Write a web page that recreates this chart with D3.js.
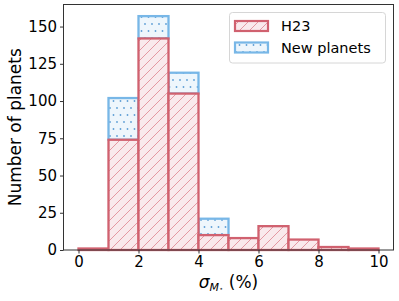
<!DOCTYPE html>
<html>
<head>
<meta charset="utf-8">
<script src="https://cdn.jsdelivr.net/npm/d3@7"></script>
<style>
  body { margin: 0; background: #fff; }
  svg { display: block; font-family: "DejaVu Sans", sans-serif; }
</style>
</head>
<body>
<div id="chart"></div>
<script>
// bin edges (sigma_M*, %)
const binStarts = [0, 1, 2, 3, 4, 5, 6, 7, 8, 9];
const binWidth = 1;
// H23 counts per bin
const h23 = [1, 74, 142, 105, 10, 8, 16, 7, 2, 1];
// new planets, stacked on top of H23
const newPlanets = [0, 28, 15, 14, 11, 0, 0, 0, 0, 0];
const xTicks = [0, 2, 4, 6, 8, 10];
const yTicks = [0, 25, 50, 75, 100, 125, 150];

const W = 399, H = 301;
const m = { left: 63.5, right: 5.5, top: 4.5, bottom: 51 };

const red = '#d0616f', redFill = '#f9e9ec', redHatch = '#e28e9a';
const blue = '#78b7e7', blueFill = '#eef6fc', blueDot = '#5e9fd6';

const svg = d3.select('#chart').append('svg')
  .attr('width', W).attr('height', H);

const defs = svg.append('defs');

const hatch = defs.append('pattern')
  .attr('id', 'hatchRed')
  .attr('patternUnits', 'userSpaceOnUse')
  .attr('width', 10).attr('height', 10);
hatch.append('rect').attr('width', 10).attr('height', 10).attr('fill', redFill);
hatch.append('path')
  .attr('d', 'M-1,11 L11,-1 M-1,1 L1,-1 M9,11 L11,9')
  .attr('stroke', redHatch).attr('stroke-width', 0.9);

const dots = defs.append('pattern')
  .attr('id', 'dotsBlue')
  .attr('patternUnits', 'userSpaceOnUse')
  .attr('width', 7).attr('height', 14);
dots.append('rect').attr('width', 7).attr('height', 14).attr('fill', blueFill);
dots.append('circle').attr('cx', 1.5).attr('cy', 3).attr('r', 0.9).attr('fill', blueDot);
dots.append('circle').attr('cx', 5).attr('cy', 10).attr('r', 0.9).attr('fill', blueDot);

const x = d3.scaleLinear().domain([-0.5, 10.5]).range([m.left, W - m.right]);
const y = d3.scaleLinear().domain([0, 164.8]).range([H - m.bottom, m.top]);

// new planets (drawn first, H23 edges sit on top)
svg.append('g').selectAll('rect')
  .data(binStarts.map((b, i) => ({ b, lo: h23[i], hi: h23[i] + newPlanets[i] })).filter(d => d.hi > d.lo))
  .join('rect')
    .attr('x', d => x(d.b))
    .attr('width', d => x(d.b + binWidth) - x(d.b))
    .attr('y', d => y(d.hi))
    .attr('height', d => y(d.lo) - y(d.hi))
    .attr('fill', 'url(#dotsBlue)')
    .attr('stroke', blue)
    .attr('stroke-width', 2.3);

svg.append('g').selectAll('rect')
  .data(binStarts.map((b, i) => ({ b, v: h23[i] })))
  .join('rect')
    .attr('x', d => x(d.b))
    .attr('width', d => x(d.b + binWidth) - x(d.b))
    .attr('y', d => y(d.v))
    .attr('height', d => y(0) - y(d.v))
    .attr('fill', 'url(#hatchRed)')
    .attr('stroke', red)
    .attr('stroke-width', 2.3);

// axes
const xAxis = svg.append('g')
  .attr('transform', `translate(0,${H - m.bottom})`)
  .call(d3.axisBottom(x).tickValues(xTicks).tickSize(3.5).tickPadding(3));
const yAxis = svg.append('g')
  .attr('transform', `translate(${m.left},0)`)
  .call(d3.axisLeft(y).tickValues(yTicks).tickSize(3.5).tickPadding(3));
[xAxis, yAxis].forEach(g => {
  g.select('.domain').remove();
  g.selectAll('line').attr('stroke', '#333');
  g.selectAll('text').attr('font-size', 15).attr('fill', '#000')
    .attr('font-family', '"DejaVu Sans", sans-serif');
});

svg.append('rect')
  .attr('x', m.left).attr('y', m.top)
  .attr('width', W - m.right - m.left).attr('height', H - m.bottom - m.top)
  .attr('fill', 'none').attr('stroke', '#333').attr('stroke-width', 1);

// axis labels
const xl = svg.append('text')
  .attr('x', (m.left + W - m.right) / 2).attr('y', 288)
  .attr('text-anchor', 'middle').attr('font-size', 17);
xl.append('tspan').attr('font-style', 'italic').text('σ');
xl.append('tspan').attr('font-style', 'italic').attr('font-size', 11).attr('dy', 3).text('M');
xl.append('tspan').attr('font-size', 7).attr('dy', 0).text('⋆');
xl.append('tspan').attr('dy', -3).text(' (%)');

svg.append('text')
  .attr('transform', `translate(15,${(m.top + H - m.bottom) / 2}) rotate(-90)`)
  .attr('text-anchor', 'middle').attr('dominant-baseline', 'central')
  .attr('font-size', 17).text('Number of planets');

// legend
const legend = svg.append('g');
legend.append('rect')
  .attr('x', 229.5).attr('y', 12.5).attr('width', 156).attr('height', 50.5)
  .attr('rx', 3).attr('fill', '#fff').attr('fill-opacity', 0.8)
  .attr('stroke', '#d6d6d6').attr('stroke-width', 1);
const items = [
  { label: 'H23', fill: 'url(#hatchRed)', stroke: red },
  { label: 'New planets', fill: 'url(#dotsBlue)', stroke: blue }
];
items.forEach((it, i) => {
  const cy = 26 + i * 21.5;
  legend.append('rect')
    .attr('x', 235).attr('y', cy - 5).attr('width', 33).attr('height', 10)
    .attr('fill', it.fill).attr('stroke', it.stroke).attr('stroke-width', 2.2);
  legend.append('text')
    .attr('x', 281).attr('y', cy + 5)
    .attr('font-size', 14.5).text(it.label);
});
</script>
</body>
</html>
